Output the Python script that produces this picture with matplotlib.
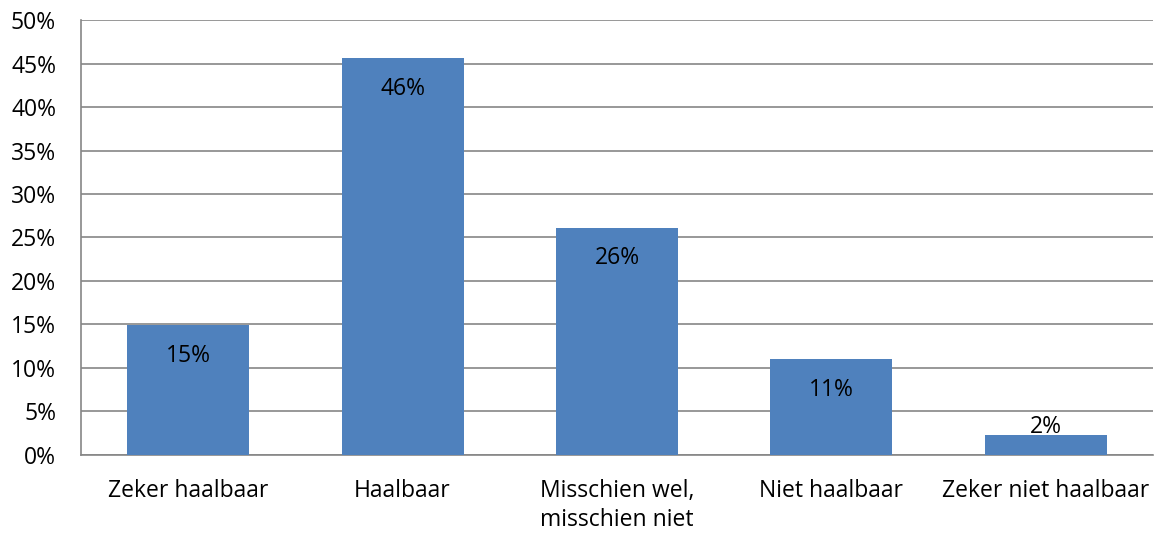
import numpy as np
import matplotlib.pyplot as plt
from matplotlib.ticker import PercentFormatter

plt.rcParams['font.family'] = ['Open Sans', 'DejaVu Sans']

categories = ['Zeker haalbaar', 'Haalbaar', 'Misschien wel,\nmisschien niet',
              'Niet haalbaar', 'Zeker niet haalbaar']
values = [14.9, 45.6, 26.1, 11.0, 2.3]
labels = ['15%', '46%', '26%', '11%', '2%']

fs = 16.5

fig = plt.figure(figsize=(11.59, 5.34), dpi=100)
ax = fig.add_axes([0.0699, 0.148, 0.9249, 0.8145])

x = np.arange(len(categories))
ax.bar(x, values, width=0.57, color='#4F81BD', zorder=3)

for xi, v, lab in zip(x, values, labels):
    ax.text(xi, max(v - 3.5, 3.2), lab, ha='center', va='center',
            fontsize=fs, color='black', zorder=4)

ax.set_xlim(-0.5, len(categories) - 0.5)
ax.set_ylim(0, 50)
ax.set_yticks(np.arange(0, 51, 5))
ax.yaxis.set_major_formatter(PercentFormatter(decimals=0))
ax.set_xticks(x)
ax.set_xticklabels(categories, linespacing=1.3)
ax.grid(axis='y', color='#868686', linewidth=1.2, zorder=0)
ax.tick_params(axis='both', length=0, labelsize=fs, colors='black')
ax.tick_params(axis='x', pad=17)
ax.tick_params(axis='y', pad=18)
for s in ['top', 'right']:
    ax.spines[s].set_visible(False)
for s in ['left', 'bottom']:
    ax.spines[s].set_color('#868686')
    ax.spines[s].set_linewidth(1.2)

fig.savefig('out.png', dpi=100)
